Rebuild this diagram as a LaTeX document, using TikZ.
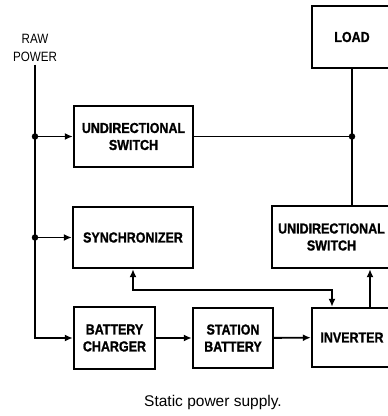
\documentclass[tikz,border=0pt]{standalone}
\usepackage{fontspec}
\setmainfont{Liberation Sans}
\newfontfamily\condfont[FakeStretch=0.86, BoldFeatures={FakeBold=1.2}]{Liberation Sans}
\usetikzlibrary{positioning,arrows.meta,calc}

\begin{document}
\begin{tikzpicture}[x=1pt, y=-1pt,
		font=\condfont\bfseries\fontsize{14.5}{17}\selectfont,
		box/.style={draw, line width=2.4pt, align=center, inner sep=2pt},
		wire/.style={line width=1.9pt},
		arr/.style={wire, -{Latex[length=8pt,width=7pt]}},
		dot/.style={circle, fill, inner sep=0pt, minimum size=6.5pt}
		]
		\useasboundingbox (0,0) rectangle (388,416);
		\clip (0,0) rectangle (388,416);
		% blocks
		\node[box, minimum width=80pt, minimum height=62pt] (load) at (352,37) {LOAD};
		\node[box, minimum width=119pt, minimum height=61pt] (uswitch) at (133.5,136.5)
		{UNDIRECTIONAL\\SWITCH};
		\node[box, minimum width=120pt, minimum height=61pt] (sync) at (133,237.5)
		{SYNCHRONIZER};
		\node[box, minimum width=119pt, minimum height=62pt] (udswitch) at (331.5,237)
		{UNIDIRECTIONAL\\SWITCH};
		\node[box, minimum width=81pt, minimum height=62pt] (charger) at (114.5,338)
		{BATTERY\\CHARGER};
		\node[box, minimum width=80pt, minimum height=60pt] (battery) at (233,338)
		{STATION\\BATTERY};
		\node[box, minimum width=80pt, minimum height=59pt] (inverter) at (352,337.5)
		{INVERTER};
		\node[align=center, font=\condfont\fontsize{13.5}{17.5}\selectfont, inner sep=3pt] (raw)
		at (35,48) {RAW\\POWER};
		\node[font=\fontsize{15.5}{18}\selectfont] (caption) at (213,402)
		{Static power supply.};
		% junctions
		\node[dot] (j1) at (raw.south |- uswitch.west) {};
		\node[dot] (j2) at (raw.south |- sync.west) {};
		\node[dot] (j3) at (load.south |- uswitch.east) {};
		% connectors
		\draw[arr] (raw.south) |- (charger.west);
		\draw[arr] (j1) -- (uswitch.west);
		\draw[arr] (j2) -- (sync.west);
		\draw[wire] (uswitch.east) -- (j3);
		\draw[wire] (load.south) -- (load.south |- udswitch.north);
		\draw[arr] (charger) -- (battery);
		\draw[arr] (battery) -- (inverter);
		\draw[arr, {Latex[length=8pt,width=7pt]}-{Latex[length=8pt,width=7pt]}]
		(sync.south) -- ++(0,20.5) -| ([xshift=-20pt]inverter.north);
		\draw[arr] ([xshift=18pt]inverter.north) -- ([xshift=18pt]inverter.north |- udswitch.south);
	\end{tikzpicture}
\end{document}
